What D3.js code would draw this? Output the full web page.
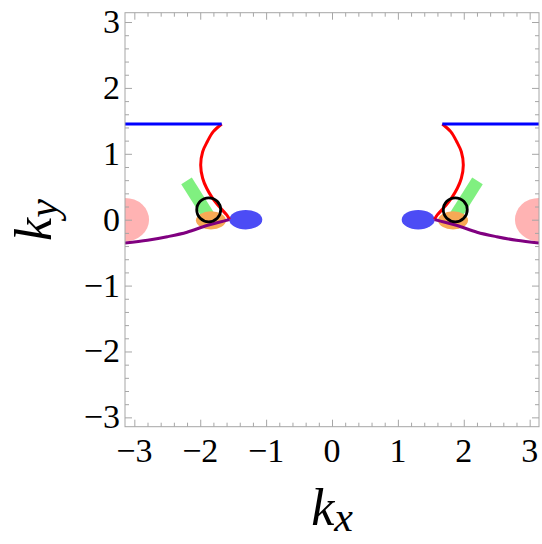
<!DOCTYPE html>
<html>
<head>
<meta charset="utf-8">
<script src="https://cdn.jsdelivr.net/npm/d3@7"></script>
<style>
body{margin:0;background:#fff;}
#wrap{position:relative;width:542px;height:544px;overflow:hidden;}
#wrap svg{position:absolute;left:0;top:0;}
.lab{position:absolute;font-family:"Liberation Serif","Times New Roman",Times,FreeSerif,serif;color:#000;line-height:1;white-space:nowrap;}
.tick-lab{font-size:34px;}
.title{font-size:52px;font-style:italic;}
.title .sub{font-size:42px;position:relative;top:6px;}
</style>
</head>
<body>
<div id="wrap"><svg id="chart" width="542" height="544"></svg></div>
<script>
const PI = Math.PI;
// axis tick values
const majorTicks = [-3, -2, -1, 0, 1, 2, 3];
const minorTicks = d3.range(-3, 3.01, 0.2).map(v => +v.toFixed(1));
const tickLabels = ["\u22123", "\u22122", "\u22121", "0", "1", "2", "3"];

// blue horizontal lines [x, y]
const blueLeft = [[-PI, 1.453], [-1.674, 1.453]];
const blueRight = [[1.674, 1.453], [PI, 1.453]];

// red curves
const redLeft = [[-1.674,1.453],[-1.802,1.336],[-1.893,1.184],[-1.963,1.032],[-1.993,0.831],[-1.963,0.629],[-1.902,0.477],[-1.811,0.325],[-1.689,0.173],[-1.598,0.072],[-1.556,0.004]];
const redRight = [[1.674,1.453],[1.802,1.336],[1.893,1.184],[1.963,1.032],[1.993,0.831],[1.963,0.629],[1.902,0.477],[1.811,0.325],[1.689,0.173],[1.598,0.072],[1.556,0.004]];

// purple curves
const purpleLeft = [[-PI,-0.353],[-2.8,-0.312],[-2.5,-0.258],[-2.2,-0.19],[-1.9,-0.088],[-1.7,-0.036],[-1.556,0.004]];
const purpleRight = [[PI,-0.353],[2.8,-0.312],[2.5,-0.258],[2.2,-0.19],[1.9,-0.088],[1.7,-0.036],[1.556,0.004]];

// ellipses: [cx, cy, rx, ry]
const pinkEllipses = [[-PI, 0, 0.365, 0.33], [PI, 0, 0.365, 0.33]];
const orangeEllipses = [[-1.837, -0.01, 0.228, 0.137], [1.837, -0.01, 0.228, 0.137]];
const blueEllipses = [[-1.308, 0.0, 0.25, 0.147], [1.308, 0.0, 0.25, 0.147]];
// green thick segments: [x1, y1, x2, y2, width]
const greenBars = [[-2.208, 0.588, -1.837, 0.0, 0.19], [2.208, 0.588, 1.837, 0.0, 0.19]];
// black circles: [cx, cy, r]
const blackCircles = [[-1.871, 0.15, 0.182], [1.871, 0.15, 0.182]];

const svg = d3.select("#chart");
const wrap = d3.select("#wrap");
const L = 125, T = 12.7, W = 414, H = 414;
const x = d3.scaleLinear().domain([-PI, PI]).range([L, L + W]);
const y = d3.scaleLinear().domain([-PI, PI]).range([T + H, T]);
const unit = W / (2 * PI);

svg.append("defs").append("clipPath").attr("id", "clip")
  .append("rect").attr("x", L).attr("y", T).attr("width", W).attr("height", H);

const plot = svg.append("g").attr("clip-path", "url(#clip)");

plot.selectAll(".pink").data(pinkEllipses).enter().append("ellipse")
  .attr("cx", d => x(d[0])).attr("cy", d => y(d[1]))
  .attr("rx", d => d[2] * unit).attr("ry", d => d[3] * unit)
  .attr("fill", "#ffb3b3");

plot.selectAll(".green").data(greenBars).enter().append("line")
  .attr("x1", d => x(d[0])).attr("y1", d => y(d[1]))
  .attr("x2", d => x(d[2])).attr("y2", d => y(d[3]))
  .attr("stroke", "#80f080").attr("stroke-width", d => d[4] * unit)
  .attr("stroke-linecap", "butt");

plot.selectAll(".orange").data(orangeEllipses).enter().append("ellipse")
  .attr("cx", d => x(d[0])).attr("cy", d => y(d[1]))
  .attr("rx", d => d[2] * unit).attr("ry", d => d[3] * unit)
  .attr("fill", "#f7a955");

plot.selectAll(".blueE").data(blueEllipses).enter().append("ellipse")
  .attr("cx", d => x(d[0])).attr("cy", d => y(d[1]))
  .attr("rx", d => d[2] * unit).attr("ry", d => d[3] * unit)
  .attr("fill", "#4c4cf5");

const line = d3.line().x(d => x(d[0])).y(d => y(d[1])).curve(d3.curveCatmullRom);

[[redLeft, "#ff0000"], [redRight, "#ff0000"], [purpleLeft, "#800080"], [purpleRight, "#800080"], [blueLeft, "#0000ff"], [blueRight, "#0000ff"]]
  .forEach(([pts, col]) => {
    plot.append("path").attr("d", line(pts)).attr("fill", "none")
      .attr("stroke", col).attr("stroke-width", 3).attr("stroke-linejoin", "round");
  });

plot.selectAll(".blk").data(blackCircles).enter().append("circle")
  .attr("cx", d => x(d[0])).attr("cy", d => y(d[1])).attr("r", d => d[2] * unit)
  .attr("fill", "none").attr("stroke", "#000").attr("stroke-width", 2.8);

// frame
svg.append("rect").attr("x", L).attr("y", T).attr("width", W).attr("height", H)
  .attr("fill", "none").attr("stroke", "#a6a6a6").attr("stroke-width", 1);

function styleAxis(g) {
  g.select(".domain").remove();
  g.selectAll(".tick line").attr("stroke", "#a6a6a6").attr("stroke-width", 1);
  g.selectAll(".tick text").remove();
}
const minorOnly = minorTicks.filter(v => !majorTicks.includes(v));
[[minorOnly, -4], [majorTicks, -7]].forEach(([vals, sz]) => {
  svg.append("g").attr("transform", `translate(0,${T + H})`)
    .call(d3.axisBottom(x).tickValues(vals).tickSize(sz).tickFormat("")).call(styleAxis);
  svg.append("g").attr("transform", `translate(0,${T})`)
    .call(d3.axisTop(x).tickValues(vals).tickSize(sz).tickFormat("")).call(styleAxis);
  svg.append("g").attr("transform", `translate(${L},0)`)
    .call(d3.axisLeft(y).tickValues(vals).tickSize(sz).tickFormat("")).call(styleAxis);
  svg.append("g").attr("transform", `translate(${L + W},0)`)
    .call(d3.axisRight(y).tickValues(vals).tickSize(sz).tickFormat("")).call(styleAxis);
});

// tick labels as real text (HTML), positioned by the scales
wrap.selectAll("div.xlab").data(majorTicks).enter().append("div")
  .attr("class", "lab tick-lab xlab")
  .style("left", d => x(d) + "px").style("top", "434px")
  .style("transform", "translateX(-50%)")
  .text((d, i) => tickLabels[i]);

wrap.selectAll("div.ylab").data(majorTicks).enter().append("div")
  .attr("class", "lab tick-lab ylab")
  .style("right", (542 - 120) + "px").style("top", d => y(d) + "px")
  .style("transform", "translateY(-50%)")
  .text((d, i) => tickLabels[i]);

// axis titles
const tx = wrap.append("div").attr("class", "lab title")
  .style("left", "332px").style("top", "482px").style("transform", "translateX(-50%)");
tx.append("span").text("k");
tx.append("span").attr("class", "sub").text("x");

const ty = wrap.append("div").attr("class", "lab title")
  .style("left", "34px").style("top", "220px")
  .style("transform", "translate(-50%,-50%) rotate(-90deg)");
ty.append("span").text("k");
ty.append("span").attr("class", "sub").text("y");
</script>
</body>
</html>
